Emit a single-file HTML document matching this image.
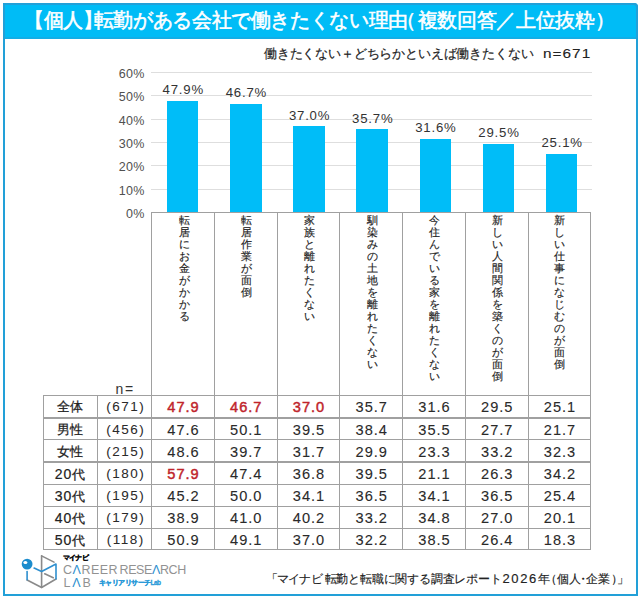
<!DOCTYPE html>
<html lang="ja"><head><meta charset="utf-8">
<style>
*{margin:0;padding:0;box-sizing:border-box}
html,body{width:640px;height:598px;background:#fff;overflow:hidden}
body{position:relative;font-family:"Liberation Sans",sans-serif;color:#333}
div,svg{position:absolute}
.frame{left:3px;top:3px;width:635px;height:592.6px;border:2px solid #22a0d8;border-radius:0 4px 0 0}
.hdr{left:3px;top:3px;width:635px;height:35.6px;background:#00bcf6;border:2px solid #12aee6;border-radius:0 4px 0 0}
.title{left:33px;top:8px;white-space:nowrap;color:#fff;font-size:20px;font-weight:normal;-webkit-text-stroke:0.55px #fff;line-height:24px;letter-spacing:-0.35px}
.lb{margin-left:-9px} .rb{margin-right:-9px} .lb2{margin-left:-10px;position:relative;left:-2.2px}
.sub{left:264px;top:44.5px;white-space:nowrap;font-size:13px;line-height:18px;color:#222;letter-spacing:-0.17px;-webkit-text-stroke:0.2px #222}
.sub .n{display:inline-block;font-size:13.6px;letter-spacing:0.9px;margin-left:10px;transform:scaleX(1.13);transform-origin:0 0;-webkit-text-stroke:0.1px #222}
.gl{left:150.5px;width:441.5px;height:1px;background:#dedede}
.yl{left:96.6px;width:48px;text-align:right;font-size:12.5px;line-height:14px;color:#505050;letter-spacing:0.3px}
.bar{width:31.4px;background:#00bdf8}
.vl{width:80px;text-align:center;font-size:13.2px;line-height:14px;color:#333;letter-spacing:0.8px}
.cat{top:214.3px;width:14px;font-size:11.3px;line-height:12px;color:#222;word-break:break-all;text-align:center;-webkit-text-stroke:0.15px #222}
.hl{height:1px;background:#a0a0a0}
.vln{width:1px;background:#a0a0a0}
.nh{text-align:center;font-size:14px;line-height:18px;color:#333;letter-spacing:1.6px;padding-left:1.6px}
.tl{text-align:center;font-size:12.8px;line-height:18px;color:#222;white-space:nowrap;-webkit-text-stroke:0.25px #222}
.tn{text-align:center;font-size:13.5px;line-height:18px;color:#2a2a2a;white-space:nowrap;letter-spacing:1.5px;padding-left:3px;-webkit-text-stroke:0.05px #2a2a2a}
.tv{text-align:center;font-size:14.6px;line-height:18px;color:#2a2a2a;white-space:nowrap;letter-spacing:1px;padding-left:1px;-webkit-text-stroke:0.1px #2a2a2a}
.tl .d{font-size:14px;letter-spacing:0.9px;-webkit-text-stroke:0.2px #222}
.red{color:#c0242b;-webkit-text-stroke:0.45px #c0242b}
.foot{top:571px;white-space:nowrap;font-size:12px;line-height:16px;color:#222;-webkit-text-stroke:0.15px #222}
.fd{font-size:13px;letter-spacing:1.6px;top:570.5px}
.mn{left:62.5px;top:553px;font-size:7px;font-weight:bold;line-height:9px;color:#111;white-space:nowrap;letter-spacing:-0.6px;-webkit-text-stroke:0.35px #111}
.crl{left:63px;top:563px;font-size:12.5px;line-height:14px;color:#929292;white-space:nowrap;letter-spacing:0.5px}
.crl2{left:119.5px;top:563px;font-size:12.5px;line-height:14px;color:#929292;white-space:nowrap;letter-spacing:-0.4px}
.lab{left:63.5px;top:576px;font-size:12.5px;line-height:14px;color:#929292;white-space:nowrap;letter-spacing:1.8px}
.kl{left:99px;top:579px;font-size:6.5px;font-weight:bold;line-height:8px;color:#2a9ad8;white-space:nowrap;letter-spacing:-0.55px;-webkit-text-stroke:0.3px #2a9ad8}
.bA{color:#2e8fcf}
</style></head><body>
<div class="hdr"></div>
<div class="frame"></div>
<div class="title"><span class="lb">【</span>個人<span class="rb">】</span>転勤がある会社で働きたくない理由<span class="lb2">（</span>複数回答／上位抜粋<span class="rb">）</span></div>
<div class="sub">働きたくない＋どちらかといえば働きたくない<span class="n">n=671</span></div>
<div class="gl" style="top:188.68px"></div>
<div class="gl" style="top:165.36px"></div>
<div class="gl" style="top:142.04px"></div>
<div class="gl" style="top:118.72px"></div>
<div class="gl" style="top:95.40px"></div>
<div class="gl" style="top:72.08px"></div>
<div class="yl" style="top:207.00px">0%</div>
<div class="yl" style="top:183.68px">10%</div>
<div class="yl" style="top:160.36px">20%</div>
<div class="yl" style="top:137.04px">30%</div>
<div class="yl" style="top:113.72px">40%</div>
<div class="yl" style="top:90.40px">50%</div>
<div class="yl" style="top:67.08px">60%</div>
<div class="bar" style="left:167.00px;top:100.80px;height:111.20px"></div>
<div class="vl" style="left:143.30px;top:83.30px">47.9%</div>
<div class="bar" style="left:230.15px;top:103.60px;height:108.40px"></div>
<div class="vl" style="left:206.45px;top:86.10px">46.7%</div>
<div class="bar" style="left:293.30px;top:126.22px;height:85.78px"></div>
<div class="vl" style="left:269.60px;top:108.72px">37.0%</div>
<div class="bar" style="left:356.45px;top:129.25px;height:82.75px"></div>
<div class="vl" style="left:332.75px;top:111.75px">35.7%</div>
<div class="bar" style="left:419.60px;top:138.81px;height:73.19px"></div>
<div class="vl" style="left:395.90px;top:121.31px">31.6%</div>
<div class="bar" style="left:482.75px;top:143.71px;height:68.29px"></div>
<div class="vl" style="left:459.05px;top:126.21px">29.5%</div>
<div class="bar" style="left:545.90px;top:153.97px;height:58.03px"></div>
<div class="vl" style="left:522.20px;top:136.47px">25.1%</div>
<div class="cat" style="left:177.08px">転居にお金がかかる</div>
<div class="cat" style="left:239.72px">転居作業が面倒</div>
<div class="cat" style="left:302.36px">家族と離れたくない</div>
<div class="cat" style="left:365.00px">馴染みの土地を離れたくない</div>
<div class="cat" style="left:427.64px">今住んでいる家を離れたくない</div>
<div class="cat" style="left:490.28px">新しい人間関係を築くのが面倒</div>
<div class="cat" style="left:552.92px">新しい仕事になじむのが面倒</div>
<div class="hl" style="left:151.10px;width:440.32px;top:212.00px"></div>
<div class="hl" style="left:42.5px;width:548.92px;top:394.70px;height:1px"></div>
<div class="hl" style="left:42.5px;width:548.92px;top:416.50px;height:2px"></div>
<div class="hl" style="left:42.5px;width:548.92px;top:439.00px;height:1px"></div>
<div class="hl" style="left:42.5px;width:548.92px;top:461.00px;height:2px"></div>
<div class="hl" style="left:42.5px;width:548.92px;top:483.70px;height:1px"></div>
<div class="hl" style="left:42.5px;width:548.92px;top:505.50px;height:1px"></div>
<div class="hl" style="left:42.5px;width:548.92px;top:527.50px;height:1px"></div>
<div class="hl" style="left:42.5px;width:548.92px;top:549.00px;height:1px"></div>
<div class="vln" style="left:42.50px;top:394.70px;height:155.30px"></div>
<div class="vln" style="left:96.50px;top:394.70px;height:155.30px"></div>
<div class="vln" style="left:151.10px;top:212.00px;height:338.00px"></div>
<div class="vln" style="left:213.86px;top:212.00px;height:338.00px"></div>
<div class="vln" style="left:276.62px;top:212.00px;height:338.00px"></div>
<div class="vln" style="left:339.38px;top:212.00px;height:338.00px"></div>
<div class="vln" style="left:402.14px;top:212.00px;height:338.00px"></div>
<div class="vln" style="left:464.90px;top:212.00px;height:338.00px"></div>
<div class="vln" style="left:527.66px;top:212.00px;height:338.00px"></div>
<div class="vln" style="left:590.42px;top:212.00px;height:338.00px"></div>
<div class="nh" style="left:97px;width:54.6px;top:380px">n=</div>
<div class="tl" style="left:43px;width:54px;top:398.45px">全体</div>
<div class="tn" style="left:97px;width:54.6px;top:398.45px">(671)</div>
<div class="tv red" style="left:151.60px;width:62.76px;top:398.45px">47.9</div>
<div class="tv red" style="left:214.36px;width:62.76px;top:398.45px">46.7</div>
<div class="tv red" style="left:277.12px;width:62.76px;top:398.45px">37.0</div>
<div class="tv" style="left:339.88px;width:62.76px;top:398.45px">35.7</div>
<div class="tv" style="left:402.64px;width:62.76px;top:398.45px">31.6</div>
<div class="tv" style="left:465.40px;width:62.76px;top:398.45px">29.5</div>
<div class="tv" style="left:528.16px;width:62.76px;top:398.45px">25.1</div>
<div class="tl" style="left:43px;width:54px;top:420.60px">男性</div>
<div class="tn" style="left:97px;width:54.6px;top:420.60px">(456)</div>
<div class="tv" style="left:151.60px;width:62.76px;top:420.60px">47.6</div>
<div class="tv" style="left:214.36px;width:62.76px;top:420.60px">50.1</div>
<div class="tv" style="left:277.12px;width:62.76px;top:420.60px">39.5</div>
<div class="tv" style="left:339.88px;width:62.76px;top:420.60px">38.4</div>
<div class="tv" style="left:402.64px;width:62.76px;top:420.60px">35.5</div>
<div class="tv" style="left:465.40px;width:62.76px;top:420.60px">27.7</div>
<div class="tv" style="left:528.16px;width:62.76px;top:420.60px">21.7</div>
<div class="tl" style="left:43px;width:54px;top:442.85px">女性</div>
<div class="tn" style="left:97px;width:54.6px;top:442.85px">(215)</div>
<div class="tv" style="left:151.60px;width:62.76px;top:442.85px">48.6</div>
<div class="tv" style="left:214.36px;width:62.76px;top:442.85px">39.7</div>
<div class="tv" style="left:277.12px;width:62.76px;top:442.85px">31.7</div>
<div class="tv" style="left:339.88px;width:62.76px;top:442.85px">29.9</div>
<div class="tv" style="left:402.64px;width:62.76px;top:442.85px">23.3</div>
<div class="tv" style="left:465.40px;width:62.76px;top:442.85px">33.2</div>
<div class="tv" style="left:528.16px;width:62.76px;top:442.85px">32.3</div>
<div class="tl" style="left:43px;width:54px;top:465.20px"><span class="d">20</span>代</div>
<div class="tn" style="left:97px;width:54.6px;top:465.20px">(180)</div>
<div class="tv red" style="left:151.60px;width:62.76px;top:465.20px">57.9</div>
<div class="tv" style="left:214.36px;width:62.76px;top:465.20px">47.4</div>
<div class="tv" style="left:277.12px;width:62.76px;top:465.20px">36.8</div>
<div class="tv" style="left:339.88px;width:62.76px;top:465.20px">39.5</div>
<div class="tv" style="left:402.64px;width:62.76px;top:465.20px">21.1</div>
<div class="tv" style="left:465.40px;width:62.76px;top:465.20px">26.3</div>
<div class="tv" style="left:528.16px;width:62.76px;top:465.20px">34.2</div>
<div class="tl" style="left:43px;width:54px;top:487.20px"><span class="d">30</span>代</div>
<div class="tn" style="left:97px;width:54.6px;top:487.20px">(195)</div>
<div class="tv" style="left:151.60px;width:62.76px;top:487.20px">45.2</div>
<div class="tv" style="left:214.36px;width:62.76px;top:487.20px">50.0</div>
<div class="tv" style="left:277.12px;width:62.76px;top:487.20px">34.1</div>
<div class="tv" style="left:339.88px;width:62.76px;top:487.20px">36.5</div>
<div class="tv" style="left:402.64px;width:62.76px;top:487.20px">34.1</div>
<div class="tv" style="left:465.40px;width:62.76px;top:487.20px">36.5</div>
<div class="tv" style="left:528.16px;width:62.76px;top:487.20px">25.4</div>
<div class="tl" style="left:43px;width:54px;top:509.10px"><span class="d">40</span>代</div>
<div class="tn" style="left:97px;width:54.6px;top:509.10px">(179)</div>
<div class="tv" style="left:151.60px;width:62.76px;top:509.10px">38.9</div>
<div class="tv" style="left:214.36px;width:62.76px;top:509.10px">41.0</div>
<div class="tv" style="left:277.12px;width:62.76px;top:509.10px">40.2</div>
<div class="tv" style="left:339.88px;width:62.76px;top:509.10px">33.2</div>
<div class="tv" style="left:402.64px;width:62.76px;top:509.10px">34.8</div>
<div class="tv" style="left:465.40px;width:62.76px;top:509.10px">27.0</div>
<div class="tv" style="left:528.16px;width:62.76px;top:509.10px">20.1</div>
<div class="tl" style="left:43px;width:54px;top:530.85px"><span class="d">50</span>代</div>
<div class="tn" style="left:97px;width:54.6px;top:530.85px">(118)</div>
<div class="tv" style="left:151.60px;width:62.76px;top:530.85px">50.9</div>
<div class="tv" style="left:214.36px;width:62.76px;top:530.85px">49.1</div>
<div class="tv" style="left:277.12px;width:62.76px;top:530.85px">37.0</div>
<div class="tv" style="left:339.88px;width:62.76px;top:530.85px">32.2</div>
<div class="tv" style="left:402.64px;width:62.76px;top:530.85px">38.5</div>
<div class="tv" style="left:465.40px;width:62.76px;top:530.85px">26.4</div>
<div class="tv" style="left:528.16px;width:62.76px;top:530.85px">18.3</div>
<svg class="logo" width="50" height="40" viewBox="0 0 50 40" style="left:15px;top:550px">
<g fill="none" stroke-width="1.6" stroke-linecap="round" stroke-linejoin="round">
<path d="M26.6 5.9 L26.6 37.5" stroke="#8a8a8a"/>
<path d="M26.6 5.9 L39 12.1" stroke="#8a8a8a"/>
<path d="M12.1 30 L24.2 36.3 L26.6 37.5 L41 29" stroke="#8a8a8a"/>
<path d="M29.7 23.8 L38.3 27.7" stroke="#8a8a8a"/>
<path d="M19.1 18 L26.6 21.5 L41 14 L41 28.9" stroke="#2e8fcf"/>
<path d="M12.1 21.5 L12.1 29.7" stroke="#2e8fcf"/>
</g>
<circle cx="12.1" cy="14.1" r="5.4" fill="#1b8ccd"/>
<ellipse cx="10.4" cy="12.6" rx="2" ry="1.5" fill="#ffffff"/>
</svg>
<div class="mn">マイナビ</div>
<div class="crl">C<span class="bA">Λ</span>REER</div>
<div class="crl2">RESE<span class="bA">Λ</span>RCH</div>
<div class="lab">L<span class="bA">Λ</span>B</div>
<div class="kl">キャリアリサーチLab</div>
<div class="foot" style="left:265.5px;letter-spacing:-0.75px">「マイナビ</div>
<div class="foot" style="left:324.5px;letter-spacing:-0.2px">転勤と転職に関する調査レポート</div>
<div class="foot fd" style="left:502.5px">2026</div>
<div class="foot" style="left:537.5px">年</div>
<div class="foot" style="left:545px">（</div>
<div class="foot" style="left:556.5px">個人</div>
<div class="foot" style="left:577px">・</div>
<div class="foot" style="left:586px">企業</div>
<div class="foot" style="left:611px">）</div>
<div class="foot" style="left:617px">」</div>
</body></html>
